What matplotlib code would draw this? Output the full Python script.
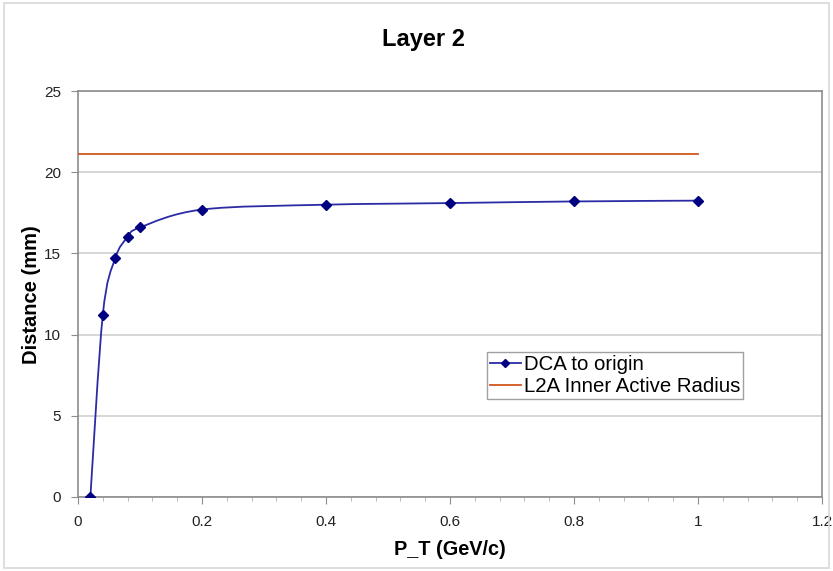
import matplotlib.pyplot as plt
from matplotlib.lines import Line2D
from matplotlib.patches import PathPatch, Rectangle
from matplotlib.path import Path
from matplotlib.ticker import MultipleLocator

plt.rcParams["font.family"] = ["Liberation Sans", "DejaVu Sans"]

# data
pt = [0.02, 0.04, 0.06, 0.08, 0.1, 0.2, 0.4, 0.6, 0.8, 1.0]
dca = [0.0, 11.2, 14.7, 16.0, 16.6, 17.7, 18.0, 18.1, 18.2, 18.25]
radius_x = [0.0, 1.0]
radius_y = [21.12, 21.12]
x_ticks = [0, 0.2, 0.4, 0.6, 0.8, 1.0, 1.2]
x_ticklabels = ["0", "0.2", "0.4", "0.6", "0.8", "1", "1.2"]

line_color = "#2B2BA6"
marker_color = "#000080"
radius_color = "#D0561E"


def smooth_path(xs, ys):
    # Excel-style smoothed line: Catmull-Rom segments as cubic Beziers
    pts = list(zip(xs, ys))
    verts = [pts[0]]
    codes = [Path.MOVETO]
    n = len(pts)
    for i in range(n - 1):
        p0 = pts[i - 1] if i > 0 else pts[i]
        p1 = pts[i]
        p2 = pts[i + 1]
        p3 = pts[i + 2] if i + 2 < n else pts[i + 1]
        c1 = (p1[0] + (p2[0] - p0[0]) / 6, p1[1] + (p2[1] - p0[1]) / 6)
        c2 = (p2[0] - (p3[0] - p1[0]) / 6, p2[1] - (p3[1] - p1[1]) / 6)
        verts += [c1, c2, p2]
        codes += [Path.CURVE4] * 3
    return Path(verts, codes)


fig = plt.figure(figsize=(8.33, 5.71), dpi=100)
ax = fig.add_axes([0.0936, 0.1296, 0.8932, 0.711])

# light chart-area border
fig.patches.append(Rectangle((0.005, 0.006), 0.99, 0.988, transform=fig.transFigure,
                             fill=False, edgecolor="#D8D8D8", linewidth=1.2))

ax.add_patch(PathPatch(smooth_path(pt, dca), fill=False, edgecolor=line_color,
                       linewidth=1.3, zorder=3))
ax.plot(pt, dca, linestyle="none", marker="D", markersize=5,
        color=marker_color, zorder=4)
ax.plot(radius_x, radius_y, color=radius_color, linewidth=1.3, zorder=3)

ax.set_xlim(0, 1.2)
ax.set_ylim(0, 25)
ax.xaxis.set_minor_locator(MultipleLocator(0.04))
ax.yaxis.set_major_locator(MultipleLocator(5))
ax.set_xticks(x_ticks)
ax.set_xticklabels(x_ticklabels)

ax.grid(axis="y", color="#D0D0D0", linewidth=1.2)
ax.set_axisbelow(True)
for s in ax.spines.values():
    s.set_color("#8C8C8C")
    s.set_linewidth(1.2)
ax.tick_params(axis="both", which="major", direction="out", length=5,
               color="#8C8C8C", labelsize=11, labelcolor="#222222")
ax.tick_params(axis="x", which="major", pad=8)
ax.tick_params(axis="y", which="major", pad=7)
ax.tick_params(axis="x", which="minor", direction="out", length=3, color="#B0B0B0")
ax.tick_params(axis="y", which="minor", length=0)

fig.text(0.509, 0.93, "Layer 2", fontsize=17, fontweight="bold",
         ha="center", va="center")
fig.text(0.540, 0.0385, "P_T (GeV/c)", fontsize=14.3, fontweight="bold",
         ha="center", va="center")
fig.text(0.0384, 0.4834, "Distance (mm)", fontsize=14.5, fontweight="bold",
         ha="center", va="center", rotation=90)

handles = [
    Line2D([], [], color=line_color, marker="D", markersize=4.5,
           markerfacecolor=marker_color, markeredgecolor=marker_color, linewidth=1.3),
    Line2D([], [], color=radius_color, linewidth=1.3),
]
ax.legend(handles, ["DCA to origin", "L2A Inner Active Radius"],
          loc="lower left", bbox_to_anchor=(0.5497, 0.2414), fontsize=14.7,
          frameon=True, fancybox=False, edgecolor="#A0A0A0", framealpha=1,
          handlelength=1.5, handletextpad=0.15, borderpad=0.15, labelspacing=0.15,
          borderaxespad=0)

fig.savefig("out.png", dpi=100)
